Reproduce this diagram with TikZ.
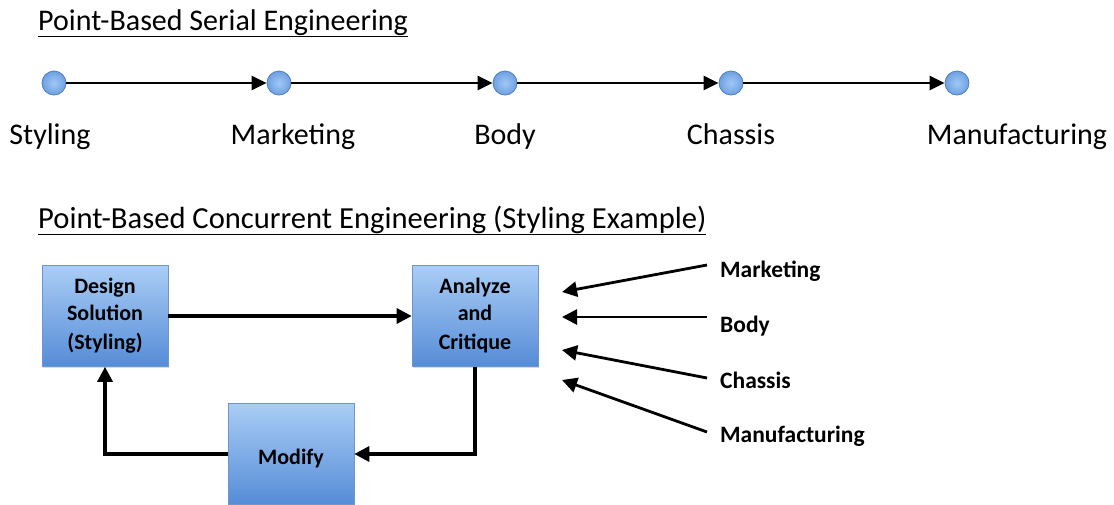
\documentclass[tikz,border=0pt]{standalone}
\usepackage{fontspec}
\setmainfont{Carlito}
\usetikzlibrary{arrows.meta,shadows}
\begin{document}
\begin{tikzpicture}[x=1pt,y=-1pt,
  dot/.style={circle,minimum size=24pt,inner sep=0pt,draw={rgb,255:red,80;green,125;blue,190},line width=0.8pt,
    inner color={rgb,255:red,160;green,200;blue,245},outer color={rgb,255:red,110;green,160;blue,225}},
  bigtxt/.style={font=\fontsize{30}{34}\selectfont,inner sep=0pt,anchor=base},
  box/.style={draw={rgb,255:red,110;green,150;blue,205},line width=0.6pt,
    top color={rgb,255:red,170;green,205;blue,245},bottom color={rgb,255:red,85;green,140;blue,215},
    minimum width=126pt,minimum height=101pt,inner sep=0pt,align=center,
    font=\fontsize{22}{28}\selectfont\bfseries,
    drop shadow={shadow xshift=1pt,shadow yshift=-1.5pt,opacity=0.3}},
  lab/.style={font=\fontsize{23.5}{26}\selectfont\bfseries,inner sep=0pt,anchor=base west},
  arr/.style={line width=3.2pt,-{Triangle[length=15pt,width=15pt]}},
  sarr/.style={line width=2.8pt,-{Triangle[length=15pt,width=14pt]}}]
\useasboundingbox (0,0) rectangle (1114,504);
\node[bigtxt,anchor=base west] (t1) at (38,30) {\underline{Point-Based Serial Engineering}};
\foreach \n/\x in {a/54,b/279,c/505,d/731,e/957}{\node[dot] (\n) at (\x,83) {};}
\draw[sarr] (a) -- (b);
\draw[sarr] (b) -- (c);
\draw[sarr] (c) -- (d);
\draw[sarr] (d) -- (e);
\node[bigtxt] (la) at (50,144) {Styling};
\node[bigtxt] (lb) at (293,144) {Marketing};
\node[bigtxt] (lc) at (505,144) {Body};
\node[bigtxt] (ld) at (731,144) {Chassis};
\node[bigtxt] (le) at (1017,144) {Manufacturing};
\node[bigtxt,anchor=base west,font=\fontsize{30.6}{34}\selectfont] (t2) at (38,228) {\underline{Point-Based Concurrent Engineering (Styling Example)}};
\node[box] (ds) at (105,316) {\raisebox{-4pt}{\begin{tabular}{@{}c@{}}Design\\[-0.5pt]Solution\\[1pt](Styling)\end{tabular}}};
\node[box] (ac) at (475,316) {\raisebox{-4pt}{\begin{tabular}{@{}c@{}}Analyze\\[-0.5pt]and\\[1pt]Critique\end{tabular}}};
\node[box,text depth=0pt] (md) at (291,454) {\raisebox{-6pt}{Modify}};
\draw[arr] (ds) -- (ac);
\draw[arr] (ac.south) |- (md.east);
\draw[arr] (md.west) -| (ds.south);
\node[lab] (m1) at (720,277) {Marketing};
\node[lab] (m2) at (720,332) {Body};
\node[lab] (m3) at (720,388) {Chassis};
\node[lab] (m4) at (720,442) {Manufacturing};
\coordinate (p1) at (562,292);
\coordinate (p2) at (562,317);
\coordinate (p3) at (562,350);
\coordinate (p4) at (562,380);
\draw[arr,line width=2.8pt] ([shift={(-13,-12)}]m1.base west) -- (p1);
\draw[arr,line width=2.8pt] ([shift={(-13,-15)}]m2.base west) -- (p2);
\draw[arr,line width=2.8pt] ([shift={(-13,-10)}]m3.base west) -- (p3);
\draw[arr,line width=2.8pt] ([shift={(-13,-10)}]m4.base west) -- (p4);
\end{tikzpicture}
\end{document}
